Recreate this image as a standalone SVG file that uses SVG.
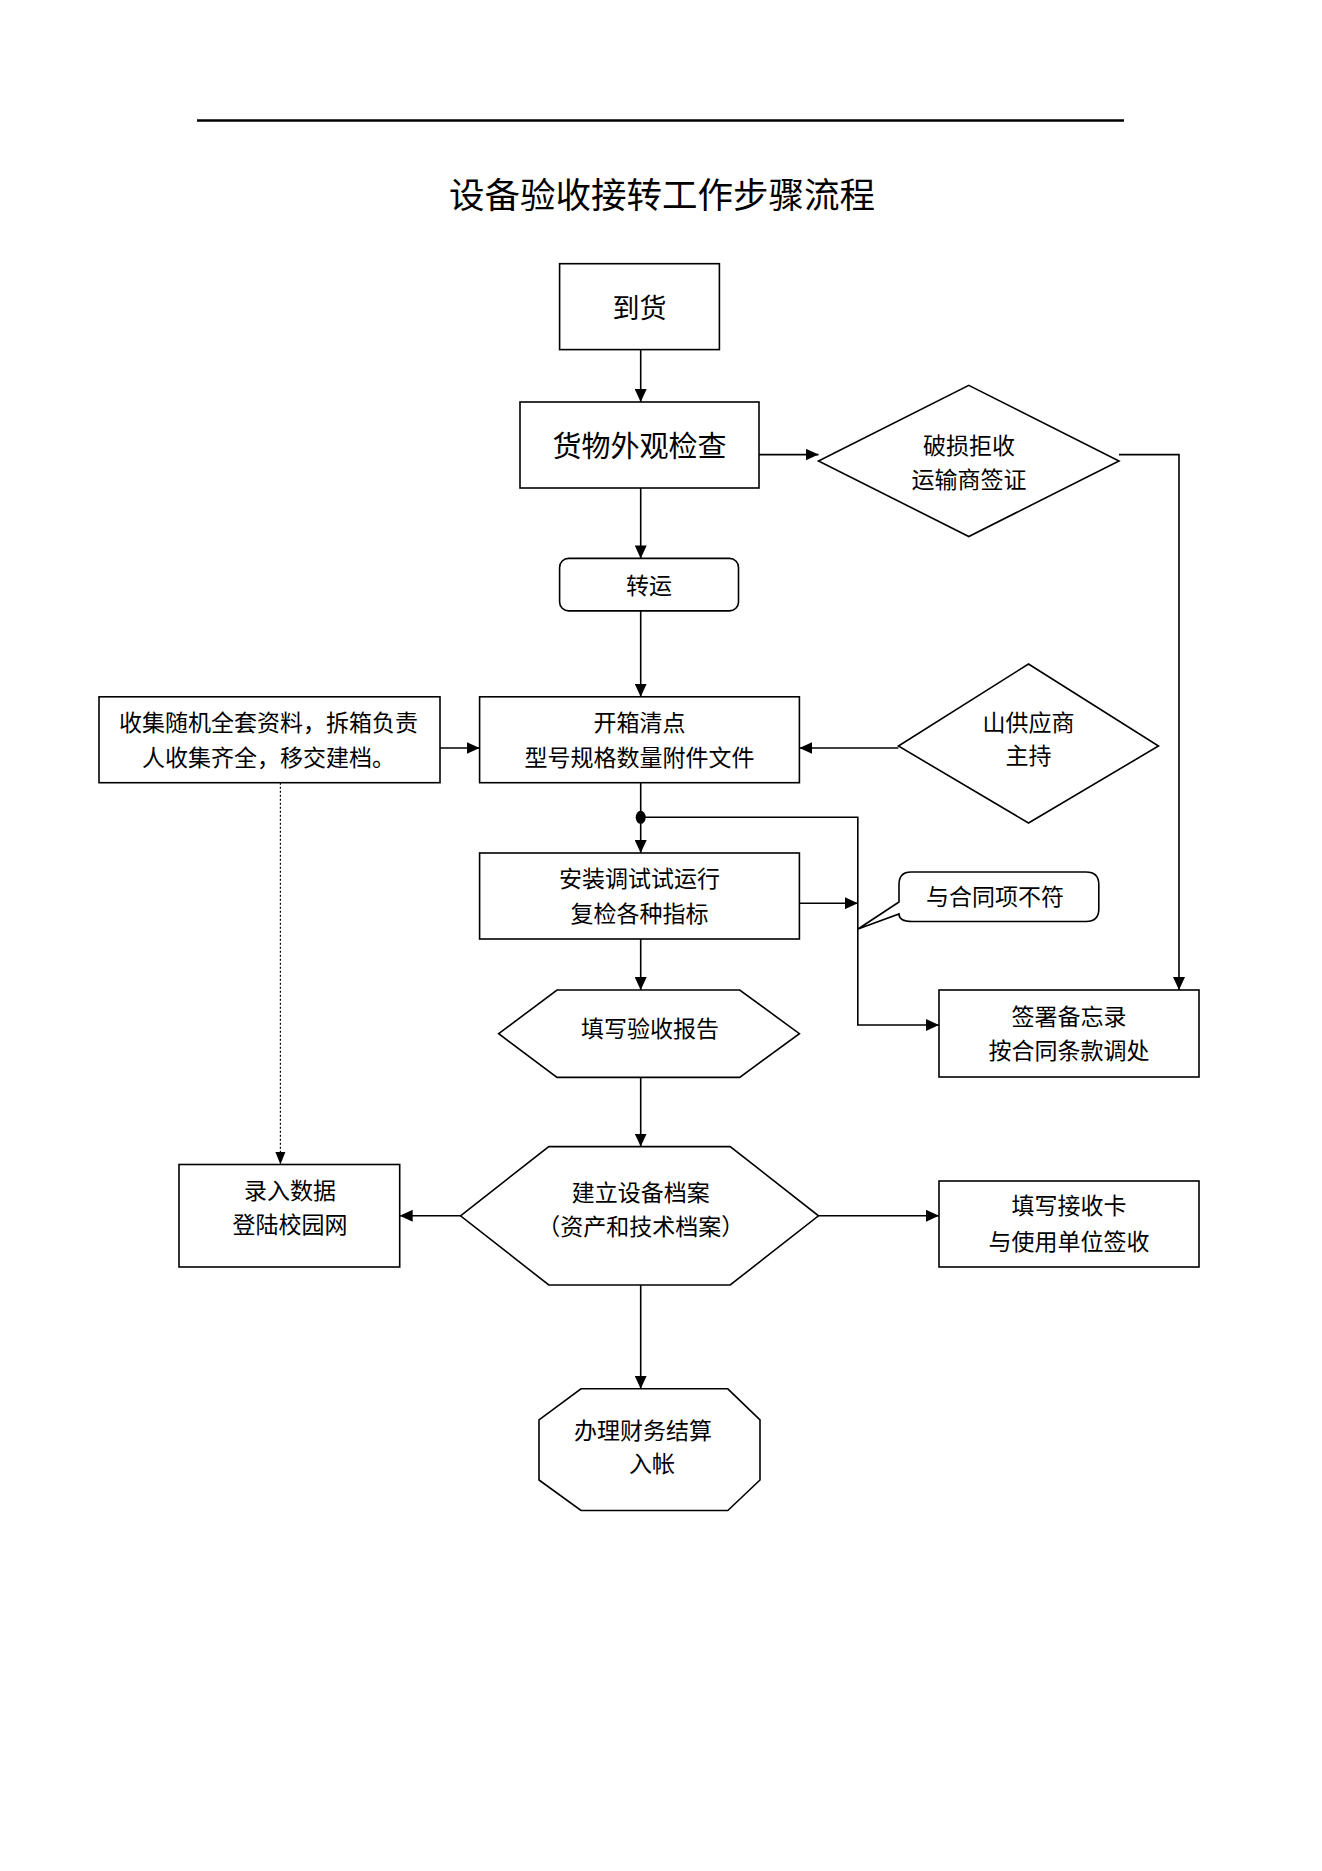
<svg xmlns="http://www.w3.org/2000/svg" width="1322" height="1871" viewBox="0 0 1322 1871">
<style>
  .shape { fill: #ffffff; stroke: #000000; stroke-width: 1.6; }
  .conn { fill: none; stroke: #000000; stroke-width: 1.6; }
  .dot { fill: none; stroke: #000000; stroke-width: 1.2; stroke-dasharray: 2 2; }
  text { font-family: "Noto Sans CJK SC", "Noto Sans CJK JP", sans-serif; fill: #000000; text-anchor: middle; dominant-baseline: central; }
  .t23 { font-size: 23px; }
  .t28 { font-size: 27px; }
  .t29 { font-size: 29px; }
  .title { font-size: 35.5px; }
</style>
<defs>
  <marker id="arr" markerUnits="userSpaceOnUse" markerWidth="14" markerHeight="12" refX="13" refY="6" orient="auto">
    <path d="M0,0 L13,6 L0,12 Z" fill="#000000"/>
  </marker>
</defs>
<rect width="1322" height="1871" fill="#ffffff"/>
<line x1="197" y1="120.5" x2="1124" y2="120.5" stroke="#000000" stroke-width="2.5"/>
<text class="title" x="662" y="192">设备验收接转工作步骤流程</text>

<g id="connectors">
  <path class="conn" d="M640.7 349.6 V402" marker-end="url(#arr)"/>
  <path class="conn" d="M759 454.6 H818.5" marker-end="url(#arr)"/>
  <path class="conn" d="M1119 454.6 H1179 V990" marker-end="url(#arr)"/>
  <path class="conn" d="M640.7 488 V558.4" marker-end="url(#arr)"/>
  <path class="conn" d="M640.7 611 V696.8" marker-end="url(#arr)"/>
  <path class="conn" d="M440 748 H479.6" marker-end="url(#arr)" stroke-width="2.2"/>
  <path class="conn" d="M898.4 748 H799.4" marker-end="url(#arr)" stroke-width="2.2"/>
  <path class="conn" d="M640.7 782.7 V853" marker-end="url(#arr)"/>
  <ellipse cx="640.7" cy="817.3" rx="5" ry="6.5" fill="#000000"/>
  <path class="conn" d="M640.7 817.3 H857.8 V1025 H939" marker-end="url(#arr)"/>
  <path class="conn" d="M799.4 903.2 H857.8" marker-end="url(#arr)"/>
  <path class="conn" d="M640.7 939 V990" marker-end="url(#arr)"/>
  <path class="conn" d="M640.7 1077.4 V1146.6" marker-end="url(#arr)"/>
  <path class="conn" d="M460.5 1215.8 H399.7" marker-end="url(#arr)"/>
  <path class="conn" d="M818.5 1215.8 H939" marker-end="url(#arr)"/>
  <path class="conn" d="M640.7 1285 V1388.8" marker-end="url(#arr)"/>
  <path class="dot" d="M280.4 782.7 V1152"/>
  <path d="M275.4 1152 L285.4 1152 L280.4 1164.5 Z" fill="#000000"/>
</g>

<g id="n-daohuo">
  <rect class="shape" x="559.6" y="263.7" width="159.8" height="85.9"/>
  <text class="t28" x="639.5" y="306">到货</text>
</g>

<g id="n-waiguan">
  <rect class="shape" x="520" y="402" width="239" height="86"/>
  <text class="t29" x="639.5" y="444">货物外观检查</text>
</g>

<g id="n-posun">
  <polygon class="shape" points="968.8,385.4 1119,461 968.8,536.5 818.5,461"/>
  <text class="t23" x="969" y="444">破损拒收</text>
  <text class="t23" x="969" y="477.6">运输商签证</text>
</g>

<g id="n-zhuanyun">
  <rect class="shape" x="559.6" y="558.4" width="178.9" height="52.5" rx="9" ry="9"/>
  <text class="t23" x="649" y="584">转运</text>
</g>

<g id="n-shouji">
  <rect class="shape" x="99" y="696.8" width="341" height="85.9"/>
  <text class="t23" x="268.5" y="721">收集随机全套资料，拆箱负责</text>
  <text class="t23" x="268.5" y="755.6">人收集齐全，移交建档。</text>
</g>

<g id="n-kaixiang">
  <rect class="shape" x="479.6" y="696.8" width="319.8" height="85.9"/>
  <text class="t23" x="639.5" y="721">开箱清点</text>
  <text class="t23" x="639.5" y="755.6">型号规格数量附件文件</text>
</g>

<g id="n-gongyingshang">
  <polygon class="shape" points="1028.5,664 1158.5,746 1028.5,823 898.4,746"/>
  <text class="t23" x="1028.5" y="721">山供应商</text>
  <text class="t23" x="1028.5" y="754.4">主持</text>
</g>

<g id="n-anzhuang">
  <rect class="shape" x="479.6" y="853" width="319.8" height="86"/>
  <text class="t23" x="639.5" y="877.3">安装调试试运行</text>
  <text class="t23" x="639.5" y="912">复检各种指标</text>
</g>

<g id="n-bufu">
  <path class="shape" d="M911 872 H1086 Q1098.8 872 1098.8 884.5 V909 Q1098.8 921.5 1086 921.5 H912 Q899 921.5 899 914 L858 929 L899 902 V884.5 Q899 872 911 872 Z"/>
  <text class="t23" x="995" y="895">与合同项不符</text>
</g>

<g id="n-beiwanglu">
  <rect class="shape" x="939" y="990" width="260" height="87"/>
  <text class="t23" x="1069" y="1014.5">签署备忘录</text>
  <text class="t23" x="1069" y="1049">按合同条款调处</text>
</g>

<g id="n-baogao">
  <polygon class="shape" points="498.7,1033.7 557,990 739.7,990 799.4,1033.7 739.7,1077.4 557,1077.4"/>
  <text class="t23" x="650" y="1026.5">填写验收报告</text>
</g>

<g id="n-dangan">
  <polygon class="shape" points="460.5,1215.8 548.8,1146.6 730.2,1146.6 818.5,1215.8 730.2,1285 548.8,1285"/>
  <text class="t23" x="640.7" y="1191">建立设备档案</text>
  <text class="t23" x="640.7" y="1224.5">（资产和技术档案）</text>
</g>

<g id="n-luru">
  <rect class="shape" x="179" y="1164.5" width="220.7" height="102.5"/>
  <text class="t23" x="290" y="1188.7">录入数据</text>
  <text class="t23" x="290" y="1223.3">登陆校园网</text>
</g>

<g id="n-jieshouka">
  <rect class="shape" x="939" y="1181" width="260" height="86"/>
  <text class="t23" x="1069" y="1204">填写接收卡</text>
  <text class="t23" x="1069" y="1240">与使用单位签收</text>
</g>

<g id="n-caiwu">
  <polygon class="shape" points="581,1388.8 727.8,1388.8 760,1419.8 760,1480 727.8,1510.5 581,1510.5 539,1480 539,1419.8"/>
  <text class="t23" x="643" y="1428.5">办理财务结算</text>
  <text class="t23" x="652" y="1462">入帐</text>
</g>
</svg>
